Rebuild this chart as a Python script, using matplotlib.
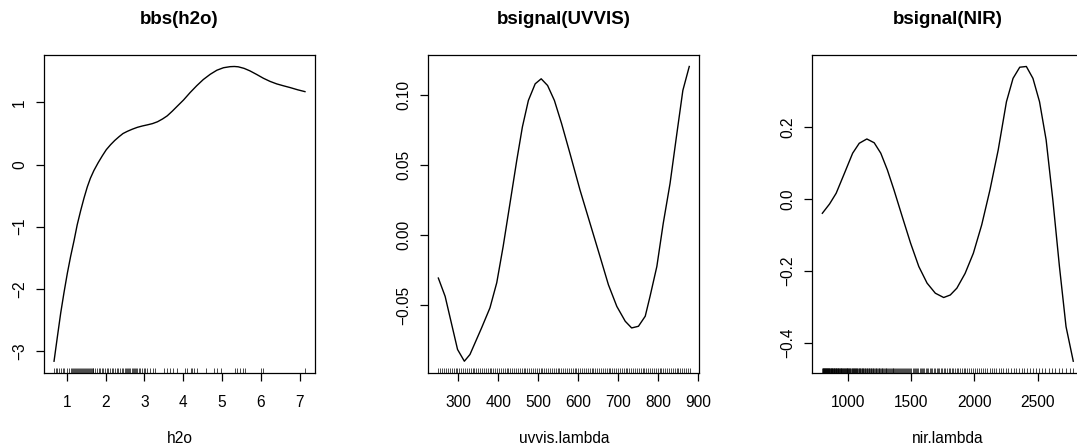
import numpy as np
import matplotlib
matplotlib.use("Agg")
import matplotlib.pyplot as plt

plt.rcParams['font.family'] = ['Liberation Sans', 'DejaVu Sans']

# effect curves
h2o_x = [0.673, 0.76, 0.845, 0.93, 1.016, 1.10, 1.19, 1.27, 1.36, 1.445, 1.53, 1.61, 1.70,
         1.81, 1.92, 2.02, 2.13, 2.24, 2.35, 2.45, 2.56, 2.69, 2.82, 2.95, 3.08, 3.21,
         3.34, 3.47, 3.59, 3.72, 3.84, 4.01, 4.18, 4.35, 4.52, 4.70, 4.87, 5.04, 5.21,
         5.32, 5.42, 5.57, 5.72, 5.90, 6.07, 6.24, 6.41, 6.58, 6.76, 6.95, 7.14]
h2o_y = [-3.167, -2.77, -2.39, -2.06, -1.75, -1.48, -1.22, -0.97, -0.74, -0.54, -0.36, -0.22, -0.096,
         0.03, 0.144, 0.24, 0.32, 0.39, 0.45, 0.50, 0.535, 0.57, 0.60, 0.622, 0.64, 0.66,
         0.69, 0.735, 0.785, 0.86, 0.935, 1.04, 1.16, 1.27, 1.37, 1.455, 1.52, 1.56, 1.577,
         1.58, 1.575, 1.55, 1.51, 1.45, 1.39, 1.34, 1.30, 1.27, 1.24, 1.205, 1.175]
h2o_rug = [0.673, 0.716, 0.759, 0.802, 0.845, 0.896, 0.939, 0.999, 1.05, 1.10, 1.146,
           1.17, 1.20, 1.22, 1.25, 1.27, 1.30, 1.32, 1.35, 1.37, 1.40, 1.42, 1.45,
           1.47, 1.50, 1.52, 1.55, 1.57, 1.60, 1.62, 1.65, 1.67, 1.69,
           1.73, 1.77, 1.82, 1.86, 1.90, 1.94, 1.99, 2.03, 2.07, 2.12, 2.16, 2.20,
           2.24, 2.29, 2.33, 2.37, 2.42, 2.46, 2.49, 2.52, 2.55, 2.58, 2.61, 2.64,
           2.67, 2.70, 2.73, 2.76, 2.79, 2.82, 2.85, 2.89, 2.93, 2.98, 3.03, 3.08,
           3.15, 3.23, 3.28, 3.51, 3.58, 3.67, 3.75, 3.85, 4.05, 4.11, 4.20, 4.24,
           4.28, 4.37, 4.59, 4.80, 4.88, 4.97, 5.34, 5.40, 5.47, 5.54, 5.60, 6.01,
           6.07, 7.13]

uvvis_x = [250, 267, 298, 315, 329, 358, 379, 396, 412, 429, 446, 460, 475, 492, 507,
           523, 540, 558, 579, 604, 629, 654, 675, 696, 717, 733, 750, 767, 779, 796,
           812, 829, 846, 861, 877]
uvvis_y = [-0.0307, -0.0438, -0.0818, -0.0902, -0.0854, -0.0664, -0.052, -0.034, -0.008,
           0.0227, 0.0536, 0.0774, 0.0964, 0.1083, 0.1119, 0.1071, 0.0964, 0.0798, 0.0584,
           0.0323, 0.0085, -0.0153, -0.0355, -0.051, -0.0616, -0.0664, -0.0652, -0.058,
           -0.0438, -0.0224, 0.0085, 0.037, 0.0727, 0.1036, 0.1207]

nir_x = [800, 857, 909, 974, 1039, 1091, 1151, 1209, 1261, 1313, 1365, 1430, 1496, 1561,
         1626, 1691, 1757, 1809, 1861, 1926, 1991, 2057, 2122, 2187, 2252, 2304, 2357,
         2409, 2461, 2513, 2565, 2618, 2670, 2722, 2779]
nir_y = [-0.0389, -0.013, 0.0167, 0.072, 0.128, 0.1556, 0.1676, 0.157, 0.128, 0.0815,
         0.026, -0.048, -0.122, -0.187, -0.233, -0.261, -0.273, -0.266, -0.247, -0.206,
         -0.150, -0.071, 0.026, 0.137, 0.271, 0.336, 0.367, 0.369, 0.336, 0.271, 0.165,
         -0.002, -0.187, -0.354, -0.450]

# measurement grids (134 UV-VIS wavelengths, 231 NIR points evenly spaced in wavenumber)
uvvis_lambda = np.linspace(250.4, 878.4, 134)
nir_lambda = 1e7 / np.linspace(1e7 / 800.5, 1e7 / 2779.0, 231)

panels = [
    ("bbs(h2o)", "h2o", h2o_x, h2o_y, h2o_rug, [1, 2, 3, 4, 5, 6, 7], [-3, -2, -1, 0, 1], "{:g}"),
    ("bsignal(UVVIS)", "uvvis.lambda", uvvis_x, uvvis_y, uvvis_lambda,
     [300, 400, 500, 600, 700, 800, 900], [-0.05, 0.0, 0.05, 0.10], "{:.2f}"),
    ("bsignal(NIR)", "nir.lambda", nir_x, nir_y, nir_lambda,
     [1000, 1500, 2000, 2500], [-0.4, -0.2, 0.0, 0.2], "{:.1f}"),
]

W, H = 1077, 446
fig = plt.figure(figsize=(W / 100, H / 100), dpi=100)
lefts = [44, 428.3, 812.3]

for left, (title, xlab, x, y, rug, xt, yt, fmt) in zip(lefts, panels):
    ax = fig.add_axes([left / W, (H - 373) / H, 271 / W, 318.3 / H])
    ax.plot(x, y, color='black', lw=1.0)
    xr = max(x) - min(x)
    yr = max(y) - min(y)
    ax.set_xlim(min(x) - 0.04 * xr, max(x) + 0.04 * xr)
    ax.set_ylim(min(y) - 0.04 * yr, max(y) + 0.04 * yr)
    ax.vlines(rug, 0.0, 0.017, transform=ax.get_xaxis_transform(), color='black', lw=0.5)
    ax.set_xticks(xt)
    ax.set_yticks(yt)
    ax.set_yticklabels([fmt.format(v).replace('-', '\u2212') for v in yt],
                       rotation=90, va='center')
    ax.tick_params(direction='out', length=6, width=0.9, labelsize=11.2, pad=6)
    ax.tick_params(axis='x', pad=10)
    for s in ax.spines.values():
        s.set_linewidth(0.9)
    ax.set_xlabel(xlab, fontsize=11.2, labelpad=15)
    ax.set_title(title, fontsize=13.5, fontweight='bold', pad=22)

fig.savefig("out.png", dpi=100)
